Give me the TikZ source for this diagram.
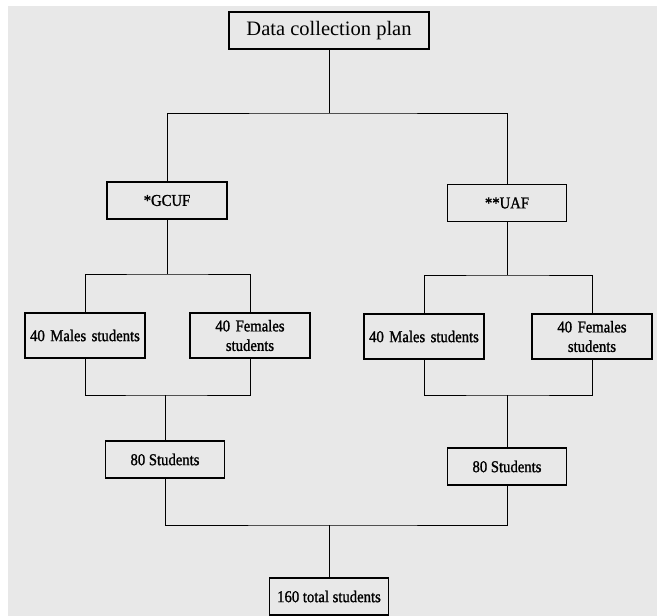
\documentclass[tikz,border=0pt]{standalone}
\usepackage{fontspec}
\setmainfont{Liberation Serif}
\newfontfamily\boxfont[FakeStretch=0.89,FakeBold=1.2]{Liberation Serif}
\usetikzlibrary{positioning}
\definecolor{bggray}{RGB}{232,232,232}
\tikzset{
    every node/.style={
        font=\boxfont\fontsize{16.5}{19.5}\selectfont
    },
    box/.style={
        shape=rectangle,
        draw,
        line width=1.2pt,
        minimum width=120pt,
        minimum height=37pt,
        inner sep=2pt,
        text centered
    },
    twoline/.style={
        box,
        minimum height=45pt,
        text width=115pt,
        align=center
    },
    link/.style={line width=1pt}
}

\begin{document}
\begin{tikzpicture}[x=1pt, y=-1pt]
			\fill[white] (0,0) rectangle (657,616);
			\fill[bggray] (8,6) rectangle (657,616);
			\useasboundingbox (0,0) rectangle (657,616);

			\node (plan) at (329, 30.5) [box, minimum width=200pt, font=\rmfamily\fontsize{20.5}{23}\selectfont] {Data collection plan};

			\node (gcuf) at (167, 200.5) [box] {*GCUF};
			\node (uaf) at (507, 203) [box, minimum width=119pt] {**UAF};

			\node (gm) at (85, 335.5) [twoline] {40 Males students};
			\node (gf) at (250, 335.5) [twoline, text width=113pt] {40 Females students};
			\node (um) at (424, 336.5) [twoline] {40 Males students};
			\node (uf) at (592, 336.5) [twoline] {40 Females students};

			\node (gs) at (165, 459.5) [box, minimum width=119pt] {80 Students};
			\node (us) at (507, 466.5) [box, minimum width=119pt] {80 Students};

			\node (tot) at (329, 596.5) [box, minimum width=119pt] {160 total students};

			\coordinate (tj) at (329, 113);
			\coordinate (gj) at (167, 274);
			\coordinate (uj) at (507, 275);
			\coordinate (gk) at (165, 395);
			\coordinate (uk) at (507, 395);
			\coordinate (bj) at (329, 525);

			\draw [link] (plan) -- (tj);
			\draw [link] (gcuf) |- (tj) -| (uaf);
			\draw [link] (gcuf) -- (gj);
			\draw [link] (gm) |- (gj) -| (gf);
			\draw [link] (uaf) -- (uj);
			\draw [link] (um) |- (uj) -| (uf);
			\draw [link] (gm) |- (gk) -| (gf);
			\draw [link] (gk) -- (gs);
			\draw [link] (um) |- (uk) -| (uf);
			\draw [link] (uk) -- (us);
			\draw [link] (gs) |- (bj) -| (us);
			\draw [link] (bj) -- (tot);
		\end{tikzpicture}
\end{document}
